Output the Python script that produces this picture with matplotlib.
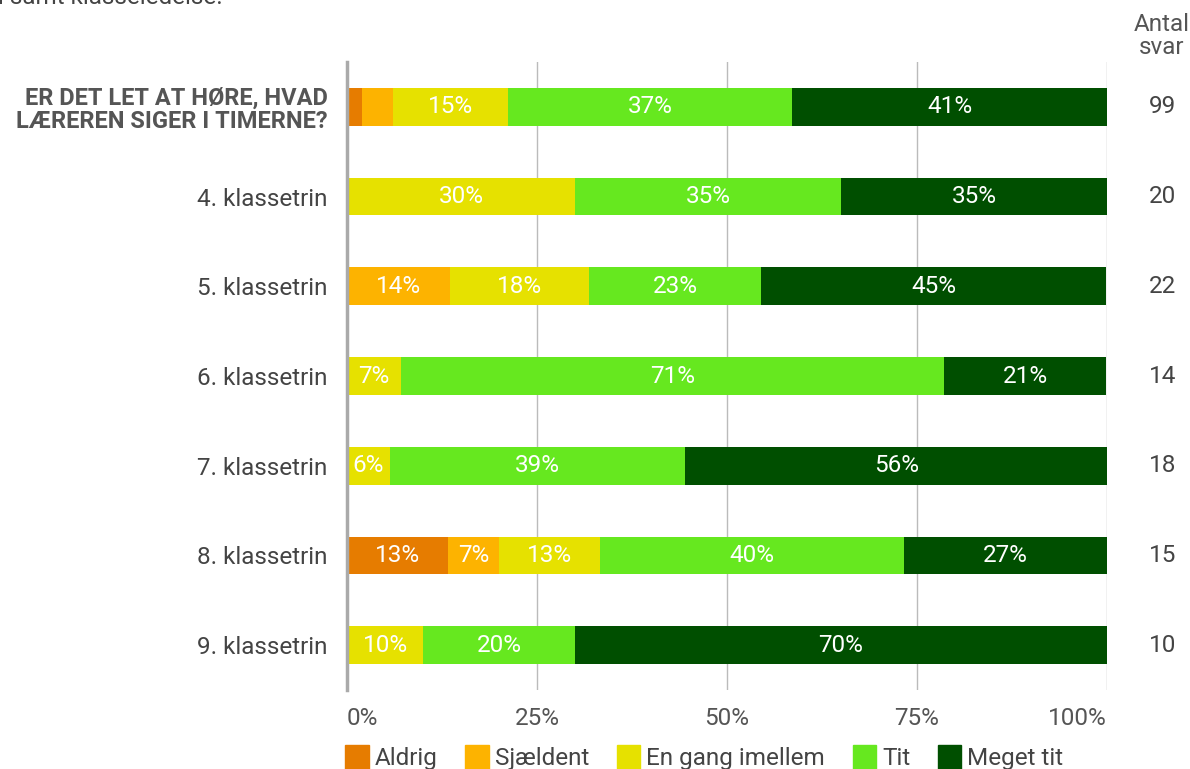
import numpy as np
import matplotlib.pyplot as plt
from matplotlib.patches import Patch

plt.rcParams['font.family'] = ['Roboto', 'DejaVu Sans']

rows = ['ER DET LET AT HØRE, HVAD\nLÆREREN SIGER I TIMERNE?',
        '4. klassetrin', '5. klassetrin', '6. klassetrin',
        '7. klassetrin', '8. klassetrin', '9. klassetrin']
categories = ['Aldrig', 'Sjældent', 'En gang imellem', 'Tit', 'Meget tit']
colors = ['#e67c00', '#fdb300', '#e6e100', '#66e81f', '#004f00']

# percentages per answer category, one value per row
aldrig    = [2.0,  0.0,  0.0,  0.0,  0.0, 13.3,  0.0]
sjaeldent = [4.0,  0.0, 13.6,  0.0,  0.0,  6.7,  0.0]
en_gang   = [15.2, 30.0, 18.2, 7.1,  5.6, 13.3, 10.0]
tit       = [37.4, 35.0, 22.7, 71.4, 38.9, 40.0, 20.0]
meget_tit = [41.4, 35.0, 45.4, 21.4, 55.6, 26.7, 70.0]
antal_svar = [99, 20, 22, 14, 18, 15, 10]

series = [aldrig, sjaeldent, en_gang, tit, meget_tit]
fs = 17.5

fig = plt.figure(figsize=(11.9, 7.69), dpi=100)
ax = fig.add_axes([0.2916, 0.1027, 0.6387, 0.8166])

y = np.arange(len(rows))
left = np.zeros(len(rows))
for vals, col in zip(series, colors):
    vals = np.array(vals)
    ax.barh(y, vals, left=left, height=0.42, color=col, zorder=3)
    for yi, (l, v) in enumerate(zip(left, vals)):
        if v >= 5:
            ax.text(l + v / 2, yi, '%d%%' % round(v), ha='center', va='center',
                    color='white', fontsize=fs, zorder=4)
    left += vals

ax.set_xlim(0, 100)
ax.set_ylim(6.5, -0.5)
ax.set_xticks([0, 25, 50, 75, 100])
ax.set_xticklabels(['0%', '25%', '50%', '75%', '100%'])
ax.tick_params(axis='x', length=0, pad=12, labelsize=fs, labelcolor='#555555')
xt = ax.get_xticklabels()
xt[0].set_ha('left')
xt[-1].set_ha('right')
ax.set_yticks(y)
ax.set_yticklabels(rows)
ax.tick_params(axis='y', length=0, pad=14, labelsize=fs, labelcolor='#444444')
lbl0 = ax.get_yticklabels()[0]
lbl0.set_fontweight('bold')
lbl0.set_color('#555555')
lbl0.set_fontsize(17)
lbl0.set_linespacing(1.05)

ax.grid(axis='x', color='#bbbbbb', linewidth=1, zorder=0)
for s in ['top', 'right', 'bottom']:
    ax.spines[s].set_visible(False)
ax.spines['left'].set_color('#aaaaaa')
ax.spines['left'].set_linewidth(2.5)
ax.spines['left'].set_zorder(5)

# antal svar column
for yi, n in enumerate(antal_svar):
    ax.text(1.073, yi, str(n), transform=ax.get_yaxis_transform(),
            ha='center', va='center', fontsize=fs, color='#444444')
fig.text(1162 / 1190, 1 - 36 / 769, 'Antal\nsvar', ha='center', va='center',
         fontsize=fs, color='#555555', linespacing=1.0)

fig.text(-0.002, 1 - 4 / 769, 'i samt klasseledelse.', ha='left', va='baseline',
         fontsize=fs, color='#444444')

handles = [Patch(facecolor=c, edgecolor=c, label=l) for c, l in zip(colors, categories)]
leg = fig.legend(handles=handles, loc='lower center', bbox_to_anchor=(0.592, -0.03),
                 ncol=5, frameon=False, fontsize=fs, handlelength=0.95, handleheight=1.1,
                 handletextpad=0.25, columnspacing=1.15, labelcolor='#444444')

fig.savefig('out.png', dpi=100)
